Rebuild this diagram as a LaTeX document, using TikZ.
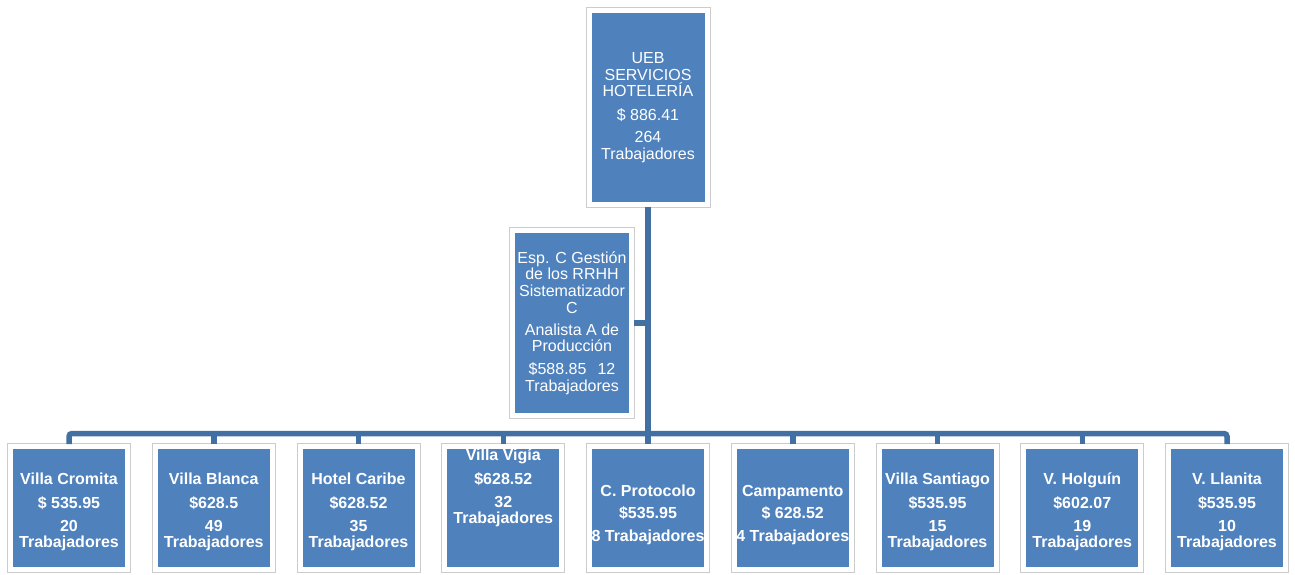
\documentclass[tikz,border=0pt]{standalone}
\usepackage{fontspec}
\setmainfont{Liberation Sans}
\definecolor{boksblaa}{RGB}{79,129,189}
\definecolor{linjeblaa}{RGB}{66,112,163}
\newcommand{\luft}[1]{\rule{0pt}{#1}}
\tikzset{
  boks/.style={rectangle, fill=boksblaa, draw=white, line width=5pt,
    preaction={draw=black!20, line width=7pt}, text=white, align=center, inner sep=1pt},
  ledelse/.style={boks, font=\fontsize{16}{16.7}\selectfont},
  enhed/.style={boks, minimum width=117pt, minimum height=123pt,
    font=\fontsize{16}{15.5}\selectfont\bfseries},
  linje/.style={draw=linjeblaa, line width=5.5pt}
}
\begin{document}
\begin{tikzpicture}[x=1pt,y=-1pt]
  \useasboundingbox (0,0) rectangle (1295,575);
  %topboks
  	\node[ledelse, minimum width=118pt, minimum height=194pt] (ueb) at (648,107.5)
  	  {UEB\\SERVICIOS\\HOTELERÍA\\[7pt]\$ 886.41\\[5pt]264\\Trabajadores};
  %stab
  	\node[ledelse, minimum width=119pt, minimum height=185pt] (esp) at (572,323)
  	  {Esp. C Gestión\\de los RRHH\\Sistematizador\\C\\[5pt]Analista A de\\Producción\\[6pt]\$588.85\hspace{11pt}12\\Trabajadores};

  %enheder
  	\node[enhed] (b1) at (69,508)     {\luft{19pt}Villa Cromita\\[8pt]\$ 535.95\\[8pt]20\\Trabajadores};
  	\node[enhed] (b2) at (213.75,508) {\luft{19pt}Villa Blanca\\[8pt]\$628.5\\[8pt]49\\Trabajadores};
  	\node[enhed] (b3) at (358.5,508)  {\luft{19pt}Hotel Caribe\\[8pt]\$628.52\\[8pt]35\\Trabajadores};
  	\node[enhed] (b4) at (503.25,508) {Villa Vigía\\[8pt]\$628.52\\[8pt]32\\Trabajadores\\[28pt]\mbox{}};
  	\node[enhed] (b5) at (648,508)    {\luft{25pt}C. Protocolo\\[7pt]\$535.95\\[7pt]8 Trabajadores};
  	\node[enhed] (b6) at (792.75,508) {\luft{25pt}Campamento\\[7pt]\$ 628.52\\[7pt]4 Trabajadores};
  	\node[enhed] (b7) at (937.5,508)  {\luft{19pt}Villa Santiago\\[8pt]\$535.95\\[8pt]15\\Trabajadores};
  	\node[enhed] (b8) at (1082.25,508){\luft{19pt}V. Holguín\\[8pt]\$602.07\\[8pt]19\\Trabajadores};
  	\node[enhed] (b9) at (1227,508)   {\luft{19pt}V. Llanita\\[8pt]\$535.95\\[8pt]10\\Trabajadores};

  %forbindelser
  	\coordinate (bus) at (0,433.5);
  	\draw[linje] (ueb.south) -- (b5.north);
  	\draw[linje] (esp.east) -- (esp.east -| ueb.south);
  	\draw[linje,rounded corners=3pt] (b1.north) -- (b1.north |- bus) -- (b9.north |- bus) -- (b9.north);
  	\draw[linje] (b2.north |- bus) -- (b2.north);
  	\draw[linje] (b3.north |- bus) -- (b3.north);
  	\draw[linje] (b4.north |- bus) -- (b4.north);
  	\draw[linje] (b6.north |- bus) -- (b6.north);
  	\draw[linje] (b7.north |- bus) -- (b7.north);
  	\draw[linje] (b8.north |- bus) -- (b8.north);
\end{tikzpicture}
\end{document}
